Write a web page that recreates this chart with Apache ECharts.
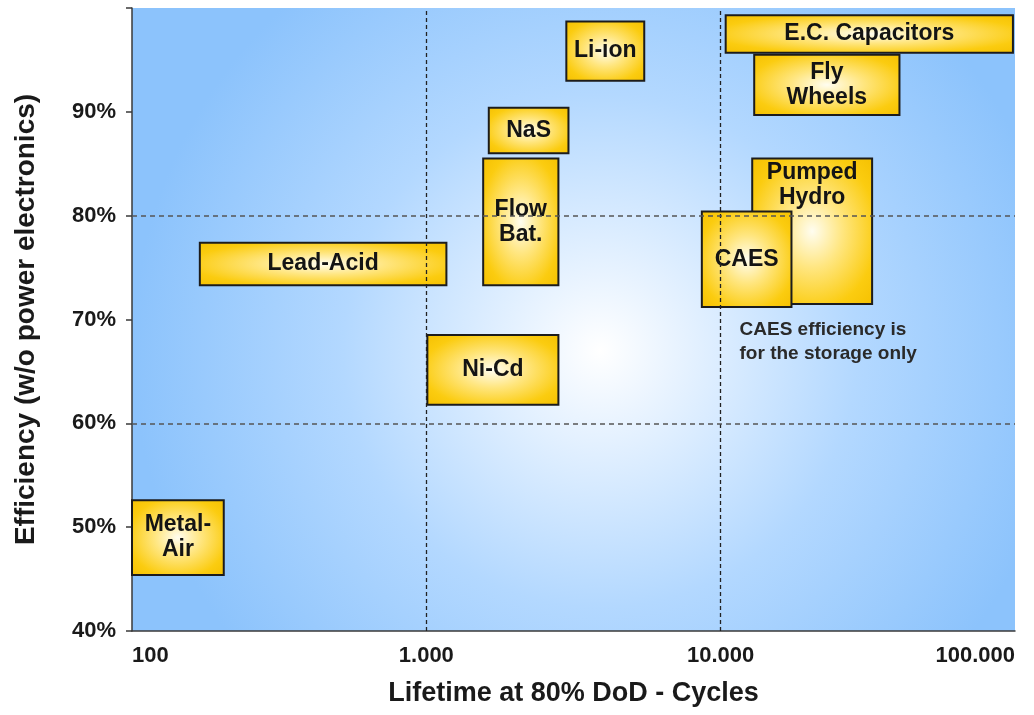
<!DOCTYPE html>
<html><head><meta charset="utf-8">
<script src="https://cdn.jsdelivr.net/npm/echarts@6/dist/echarts.min.js"></script>
<style>html,body{margin:0;padding:0;background:#fff}#c{width:1034px;height:715px}</style>
</head><body><div id="c"></div>
<script>
// ---- data ----
const technologies = ['Metal-\nAir', 'Lead-Acid', 'Ni-Cd', 'Flow\nBat.', 'NaS', 'Li-ion', 'E.C. Capacitors', 'Fly\nWheels', 'Pumped\nHydro', 'CAES'];
const cyclesLow  = [100, 170, 1008, 1560, 1630, 2990, 10400, 13000, 12800, 8630];
const cyclesHigh = [205, 1170, 2810, 2810, 3040, 5500, 98400, 40500, 32700, 17400];
const effLow  = [45.4, 73.3, 61.8, 73.3, 86.0, 93.0, 95.7, 89.7, 71.5, 71.2];
const effHigh = [52.6, 77.4, 68.5, 85.5, 90.4, 98.7, 99.3, 95.5, 85.5, 80.4];
const xTickValues = [100, 1000, 10000, 100000];
const yTickValues = [40, 50, 60, 70, 80, 90, 100];
const xGuides = [1000, 10000];
const yGuides = [60, 80];
const noteText = 'CAES efficiency is\nfor the storage only';
const noteCycles = 11590;
const noteEff = 67.9;

const FONT = '"Liberation Sans", Arial, Helvetica, sans-serif';
const chart = echarts.init(document.getElementById('c'), null, {renderer: 'canvas'});

function fmtThousands(v) {
  return String(Math.round(v)).replace(/\B(?=(\d{3})+(?!\d))/g, '.');
}

function boxItem(params, api) {
  const i = params.dataIndex;
  const p0 = api.coord([api.value(0), api.value(3)]);
  const p1 = api.coord([api.value(1), api.value(2)]);
  const w = p1[0] - p0[0], h = p1[1] - p0[1];
  const name = technologies[i];
  const atTop = name === 'Pumped\nHydro';
  return {
    type: 'group',
    children: [
      {
        type: 'rect', x: p0[0], y: p0[1], scaleX: w / 100, scaleY: h / 100,
        shape: {x: 0, y: 0, width: 100, height: 100},
        style: {
          fill: new echarts.graphic.RadialGradient(0.5, 0.5, 0.72, [
            {offset: 0, color: '#fffdf0'},
            {offset: 0.35, color: '#ffe680'},
            {offset: 0.75, color: '#fbcc10'},
            {offset: 1, color: '#f5c000'}
          ])
        }
      },
      {
        type: 'rect', shape: {x: p0[0], y: p0[1], width: w, height: h},
        style: {fill: 'none', stroke: '#1c1c1c', lineWidth: 2}
      },
      {
        type: 'text', x: p0[0] + w / 2, y: atTop ? p0[1] + 27 : p0[1] + h / 2,
        style: {
          text: name, fill: '#141414', font: 'bold 23px ' + FONT,
          align: 'center', verticalAlign: 'middle', lineHeight: 25
        }
      }
    ]
  };
}

function noteItem(params, api) {
  const p = api.coord([api.value(0), api.value(1)]);
  return {
    type: 'text', x: p[0], y: p[1],
    style: {
      text: noteText, fill: '#2a2a2a', font: 'bold 19px ' + FONT,
      align: 'left', verticalAlign: 'middle', lineHeight: 24
    }
  };
}

const guideData = []
  .concat(xGuides.map(v => ({xAxis: v, lineStyle: {color: '#222', type: [4, 3], width: 1.3}})))
  .concat(yGuides.map(v => ({yAxis: v, lineStyle: {color: '#555', type: [5, 4], width: 1.5}})));

chart.setOption({
  animation: false,
  grid: {
    left: 132, right: 19, top: 8, bottom: 84, show: true, borderWidth: 0,
    backgroundColor: new echarts.graphic.RadialGradient(0.53, 0.55, 0.75, [
      {offset: 0, color: '#ffffff'},
      {offset: 0.15, color: '#eaf4ff'},
      {offset: 0.55, color: '#b3d8ff'},
      {offset: 1, color: '#8cc3fc'}
    ])
  },
  xAxis: {
    type: 'log', logBase: 10, min: xTickValues[0], max: xTickValues[xTickValues.length - 1],
    axisLine: {lineStyle: {color: '#3a3a3a', width: 1.5}},
    axisTick: {show: false},
    splitLine: {show: false},
    axisLabel: {
      formatter: v => fmtThousands(v), color: '#1a1a1a', fontFamily: FONT, fontWeight: 'bold',
      fontSize: 22, margin: 14, alignMinLabel: 'left', alignMaxLabel: 'right'
    },
    name: 'Lifetime at 80% DoD - Cycles', nameLocation: 'middle', nameGap: 49,
    nameTextStyle: {fontFamily: FONT, fontWeight: 'bold', fontSize: 27, color: '#1a1a1a'}
  },
  yAxis: {
    type: 'value', min: yTickValues[0], max: yTickValues[yTickValues.length - 1], interval: 10,
    axisLine: {show: true, lineStyle: {color: '#3a3a3a', width: 1.5}},
    axisTick: {show: true, length: 6, lineStyle: {color: '#3a3a3a', width: 1.5}},
    splitLine: {show: false},
    axisLabel: {
      formatter: v => (v === 100 ? '' : v + '%'), color: '#1a1a1a', fontFamily: FONT, fontWeight: 'bold',
      fontSize: 22, margin: 16
    },
    name: 'Efficiency (w/o power electronics)', nameLocation: 'middle', nameGap: 92,
    nameTextStyle: {fontFamily: FONT, fontWeight: 'bold', fontSize: 28, color: '#1a1a1a'}
  },
  series: [
    {
      type: 'line', data: [], z: 1, silent: true,
      markLine: {silent: true, symbol: 'none', label: {show: false}, data: guideData, animation: false}
    },
    {
      type: 'custom', z: 3, renderItem: boxItem, clip: false,
      encode: {x: [0, 1], y: [2, 3]},
      data: technologies.map((t, i) => [cyclesLow[i], cyclesHigh[i], effLow[i], effHigh[i]])
    },
    {
      type: 'custom', z: 3, renderItem: noteItem, encode: {x: 0, y: 1},
      data: [[noteCycles, noteEff]]
    }
  ]
});
</script>
</body></html>
